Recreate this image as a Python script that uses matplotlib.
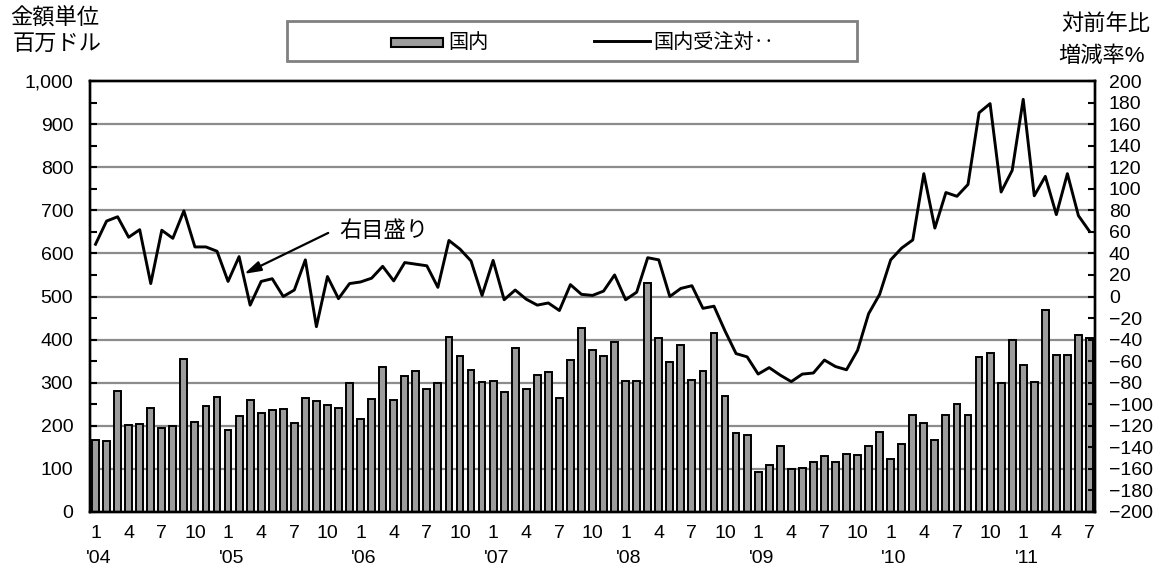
import numpy as np
import matplotlib
matplotlib.use("Agg")
import matplotlib.pyplot as plt
from matplotlib.patches import Rectangle
from matplotlib.lines import Line2D
from matplotlib.ticker import FuncFormatter, MultipleLocator

plt.rcParams['font.family'] = ['Liberation Sans', 'Noto Sans CJK JP']

# monthly, Jan 2004 - Jul 2011
years = ["'04", "'05", "'06", "'07", "'08", "'09", "'10", "'11"]

domestic = [
    167, 164, 281, 201, 204, 241, 196, 199, 355, 209, 246, 267,   # 2004
    190, 223, 261, 229, 237, 240, 206, 265, 258, 248, 242, 300,   # 2005
    216, 262, 336, 259, 316, 328, 285, 299, 405, 363, 330, 302,   # 2006
    305, 279, 380, 285, 317, 324, 265, 352, 427, 377, 363, 394,   # 2007
    304, 305, 532, 403, 349, 388, 306, 326, 415, 270, 184, 178,   # 2008
    92, 108, 152, 99, 103, 116, 131, 116, 134, 132, 154, 185,     # 2009
    122, 157, 226, 206, 167, 226, 250, 226, 360, 368, 300, 398,   # 2010
    340, 302, 468, 364, 364, 410, 403,                            # 2011
]

yoy = [
    48.5, 70, 74, 55, 62, 12, 61.5, 54, 79.5, 46, 46, 42,         # 2004
    14, 37, -8, 14, 16.5, 0, 6, 34, -28, 18.5, -2, 12,            # 2005
    13.5, 17, 28, 14.5, 31.5, 30, 28.5, 8.5, 52, 44, 33, 1,       # 2006
    33.5, -3, 6, -2.5, -8, -6, -13, 11, 2, 1, 5, 20,              # 2007
    -3, 4, 36, 34, 0, 7.5, 10, -11, -9, -32, -53, -56,            # 2008
    -72, -66, -73, -79, -72, -71, -59, -65, -68, -50, -16, 2,     # 2009
    34, 45, 52.5, 114, 63.5, 96.5, 93, 104, 170.5, 179, 97, 117,  # 2010
    183, 93.5, 111.5, 76, 114, 75, 60.5,                          # 2011
]

x = np.arange(len(domestic))
W, H = 1162, 572

fig = plt.figure(figsize=(W / 100, H / 100), dpi=100)
ax = fig.add_axes([90 / W, 1 - 512 / H, 1005 / W, 431 / H])

for v in range(100, 1000, 100):
    ax.axhline(v, color='#8c8c8c', lw=1.6, zorder=1)
ax.bar(x, domestic, width=0.62, color='#9c9c9c', edgecolor='black',
       linewidth=1.4, zorder=2)

ax.set_xlim(-0.5, len(domestic) - 0.5)
ax.set_ylim(0, 1000)
ax.set_yticks(range(0, 1001, 100))
ax.yaxis.set_major_formatter(FuncFormatter(lambda v, p: f"{int(v):,}"))
ax.yaxis.set_minor_locator(MultipleLocator(50))
ax.tick_params(axis='y', which='both', direction='in', length=5, width=1.5,
               labelsize=14, pad=12)

tick_idx = [i for i in x if (i % 12) in (0, 3, 6, 9)]
ax.set_xticks(tick_idx)
ax.set_xticklabels([str(i % 12 + 1) for i in tick_idx])
ax.tick_params(axis='x', length=0, labelsize=14, pad=9)
for k, yr in enumerate(years):
    ax.text(k * 12 + 0.3, -0.107, yr, transform=ax.get_xaxis_transform(),
            ha='center', va='center', fontsize=14)

ax2 = ax.twinx()
ax2.plot(x, yoy, color='black', lw=2.1, zorder=3)
ax2.set_ylim(-200, 200)
ax2.set_yticks(range(-200, 201, 20))
ax2.tick_params(axis='y', direction='in', length=5, width=1.5,
                labelsize=14, pad=10)

for a in (ax, ax2):
    for s in a.spines.values():
        s.set_linewidth(1.7)
        s.set_color('black')

# annotation
ax2.annotate('', xy=(13.46, 21), xytext=(21.07, 59),
             arrowprops=dict(arrowstyle='-|>,head_length=1.0,head_width=0.3',
                             color='black', lw=1.6, shrinkA=0, shrinkB=0))
ax2.text(22.07, 60, '右目盛り', ha='left', va='center', fontsize=16)

# axis titles
fig.text(10 / W, 1 - 19 / H, '金額単位', ha='left', va='center', fontsize=16)
fig.text(13 / W, 1 - 44 / H, '百万ドル', ha='left', va='center', fontsize=16)
fig.text(1150 / W, 1 - 24 / H, '対前年比', ha='right', va='center', fontsize=16)
fig.text(1145 / W, 1 - 56 / H, '増減率%', ha='right', va='center', fontsize=16)

# legend box
fig.add_artist(Rectangle((287 / W, 1 - 61 / H), 570 / W, 40 / H,
                         transform=fig.transFigure, facecolor='white',
                         edgecolor='#808080', lw=2))
fig.add_artist(Rectangle((391 / W, 1 - 46.7 / H), 52 / W, 9 / H,
                         transform=fig.transFigure, facecolor='#9c9c9c',
                         edgecolor='black', lw=1.5))
fig.text(448 / W, 1 - 42 / H, '国内', ha='left', va='center', fontsize=14.5)
fig.add_artist(Line2D([594 / W, 650 / W], [1 - 41 / H, 1 - 41 / H],
                      transform=fig.transFigure, color='black', lw=2.1))
fig.text(653 / W, 1 - 42 / H, '国内受注対‥', ha='left', va='center', fontsize=14.5)

fig.savefig('out.png', dpi=100)
